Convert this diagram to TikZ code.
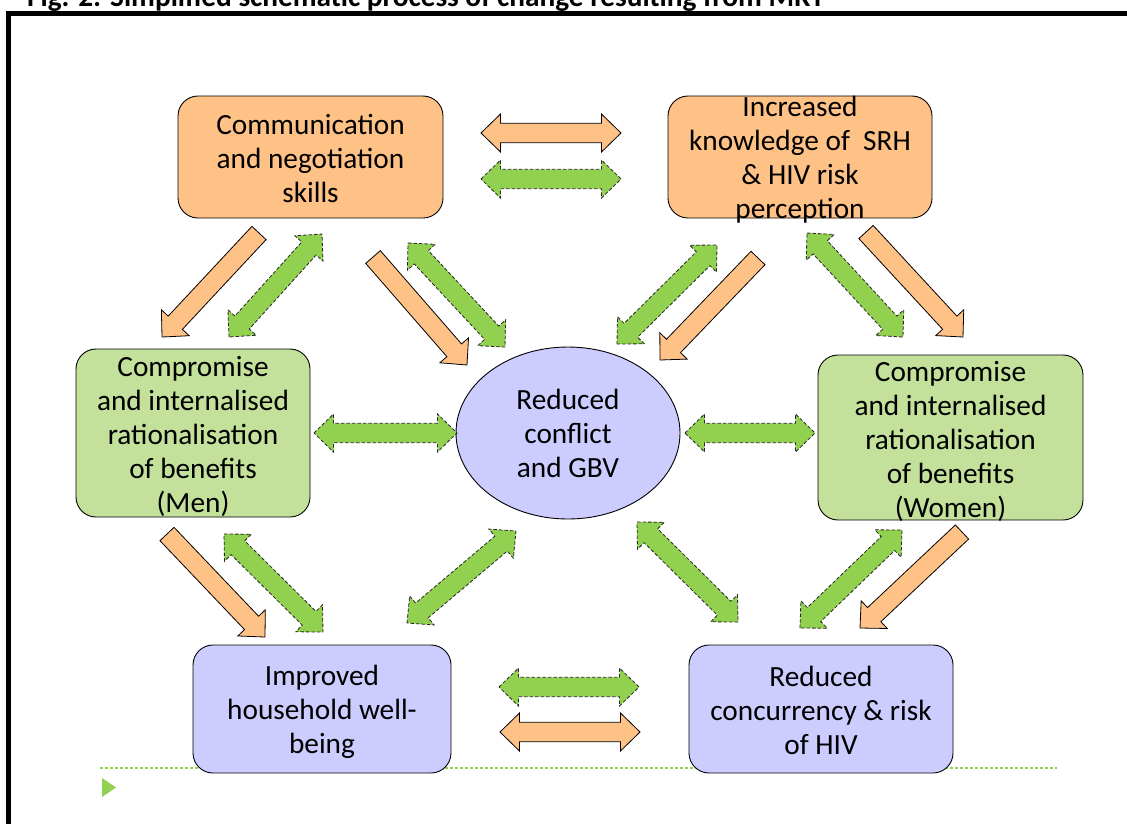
\documentclass[tikz,border=0pt]{standalone}
\usepackage{fontspec}
\setmainfont{Carlito}
\usetikzlibrary{calc,shapes.geometric}
\definecolor{orF}{RGB}{255,194,134}
\definecolor{grF}{RGB}{195,225,155}
\definecolor{puF}{RGB}{204,204,255}
\definecolor{grA}{RGB}{146,208,80}
\newcommand{\arrSW}{9.7pt}
\newcommand{\arrHW}{19pt}
\newcommand{\arrHL}{19.5pt}
% single block arrow: style, tail, tip
\newcommand{\blkS}[3]{%
  \coordinate (hb) at ($(#3)!\arrHL!(#2)$);
  \draw[#1] ($(#2)!\arrSW!90:(#3)$) -- ($(hb)!\arrSW!90:(#3)$) -- ($(hb)!\arrHW!90:(#3)$) -- (#3)
    -- ($(hb)!\arrHW!-90:(#3)$) -- ($(hb)!\arrSW!-90:(#3)$) -- ($(#2)!\arrSW!-90:(#3)$) -- cycle;
}
% double block arrow: style, end 1, end 2
\newcommand{\blkD}[3]{%
  \coordinate (ha) at ($(#2)!\arrHL!(#3)$);
  \coordinate (hb) at ($(#3)!\arrHL!(#2)$);
  \draw[#1] (#2) -- ($(ha)!\arrHW!90:(#3)$) -- ($(ha)!\arrSW!90:(#3)$) -- ($(hb)!\arrSW!90:(#3)$)
    -- ($(hb)!\arrHW!90:(#3)$) -- (#3) -- ($(hb)!\arrHW!-90:(#3)$) -- ($(hb)!\arrSW!-90:(#3)$)
    -- ($(ha)!\arrSW!-90:(#3)$) -- ($(ha)!\arrHW!-90:(#3)$) -- cycle;
}
\tikzset{
  box/.style={draw=black, line width=0.9pt, rounded corners=20pt, inner sep=0pt},
  txt/.style={align=center, inner sep=0pt, font=\fontsize{29.3}{34}\selectfont},
  orarrow/.style={draw=black, line width=0.8pt, fill=orF, line join=miter},
  grarrow/.style={draw=black!85, line width=0.8pt, fill=grA, dash pattern=on 3.5pt off 2pt},
}
\begin{document}
\begin{tikzpicture}[x=1pt,y=-1pt]
\useasboundingbox (0,0) rectangle (1127,823);
\clip (0,0) rectangle (1127,823);
\fill[white] (0,0) rectangle (1127,823);

% title (cut off at the top) and frame
\node[anchor=base west, inner sep=0pt, font=\bfseries\fontsize{29.3}{33}\selectfont] (title) at (27,6)
  {Fig. 2: Simplified schematic process of change resulting from MRT};
\draw[line width=5pt, line join=miter] (8.9,840) -- (8.9,13.4) -- (1140,13.4);

% green dashed rule and bullet
\coordinate (ruleL) at (100,768);
\coordinate (ruleR) at (1057,768);
\draw[grA, line width=1.2pt, dash pattern=on 3pt off 2pt] (ruleL) -- (ruleR);
\fill[grA] (102,778) -- (116,787.5) -- (102,797) -- cycle;

% boxes
\node[box, fill=orF, minimum width=265pt, minimum height=122pt] (comm) at (310.5,157) {};
\node[box, fill=orF, minimum width=264pt, minimum height=122pt] (know) at (800,157) {};
\node[box, fill=grF, minimum width=234pt, minimum height=168pt] (men) at (193,433) {};
\node[box, fill=grF, minimum width=265pt, minimum height=165pt] (women) at (950.5,437.5) {};
\node[draw=black, line width=0.9pt, fill=puF, ellipse, inner sep=0pt, minimum width=224pt, minimum height=172pt] (gbv) at (568,433) {};
\node[box, fill=puF, minimum width=258pt, minimum height=128pt] (house) at (322,709) {};
\node[box, fill=puF, minimum width=264pt, minimum height=128pt] (hiv) at (821,709) {};

% texts
\node[txt] (commT) at ($(comm)+(0,1)$) {Communication\\and negotiation\\skills};
\node[txt] (knowT) at ($(know)+(0,3)$) {Increased\\knowledge of\ \ SRH\\\& HIV risk\\perception};
\node[txt] (menT) at ($(men)+(0,3)$) {Compromise\\and internalised\\rationalisation\\of benefits\\(Men)};
\node[txt] (womenT) at ($(women)+(0,3.5)$) {Compromise\\and internalised\\rationalisation\\of benefits\\(Women)};
\node[txt] (gbvT) at (gbv) {Reduced\\conflict\\and GBV};
\node[txt] (houseT) at ($(house)+(0,3)$) {Improved\\household well-\\being};
\node[txt] (hivT) at ($(hiv)+(0,1)$) {Reduced\\concurrency \& risk\\of HIV};

% arrow end points
\coordinate (o1a) at (259,233);  \coordinate (o1b) at (162,337);
\coordinate (o2a) at (373,257);  \coordinate (o2b) at (467,365);
\coordinate (o3a) at (758,258);  \coordinate (o3b) at (660,360);
\coordinate (o4a) at (866,232);  \coordinate (o4b) at (963,337);
\coordinate (o5a) at (167,534);  \coordinate (o5b) at (265,637);
\coordinate (o6a) at (962,532);  \coordinate (o6b) at (860,628);
\coordinate (otA) at (481,133);  \coordinate (otB) at (621,133);
\coordinate (obA) at (500,732);  \coordinate (obB) at (640,732);
\coordinate (gtA) at (481,179);  \coordinate (gtB) at (621,179);
\coordinate (g1a) at (229,337);  \coordinate (g1b) at (322,234);
\coordinate (g2a) at (408,243);  \coordinate (g2b) at (505,347);
\coordinate (g3a) at (617,344);  \coordinate (g3b) at (717,245);
\coordinate (g4a) at (807,233);  \coordinate (g4b) at (903,337);
\coordinate (gmlA) at (314,433); \coordinate (gmlB) at (457,433);
\coordinate (gmrA) at (685,433); \coordinate (gmrB) at (815,433);
\coordinate (g5a) at (224,534);  \coordinate (g5b) at (323,632);
\coordinate (g6a) at (407,623);  \coordinate (g6b) at (516,531);
\coordinate (g7a) at (637,522);  \coordinate (g7b) at (738,622);
\coordinate (g8a) at (800,628);  \coordinate (g8b) at (902,530);
\coordinate (gbA) at (499,687);  \coordinate (gbB) at (639,687);

% orange arrows
\blkS{orarrow}{o1a}{o1b}
\blkS{orarrow}{o2a}{o2b}
\blkS{orarrow}{o3a}{o3b}
\blkS{orarrow}{o4a}{o4b}
\blkS{orarrow}{o5a}{o5b}
\blkS{orarrow}{o6a}{o6b}
\blkD{orarrow}{otA}{otB}
\blkD{orarrow}{obA}{obB}

% green arrows
\blkD{grarrow}{gtA}{gtB}
\blkD{grarrow}{g1a}{g1b}
\blkD{grarrow}{g2a}{g2b}
\blkD{grarrow}{g3a}{g3b}
\blkD{grarrow}{g4a}{g4b}
\blkD{grarrow}{gmlA}{gmlB}
\blkD{grarrow}{gmrA}{gmrB}
\blkD{grarrow}{g5a}{g5b}
\blkD{grarrow}{g6a}{g6b}
\blkD{grarrow}{g7a}{g7b}
\blkD{grarrow}{g8a}{g8b}
\blkD{grarrow}{gbA}{gbB}
\end{tikzpicture}
\end{document}
